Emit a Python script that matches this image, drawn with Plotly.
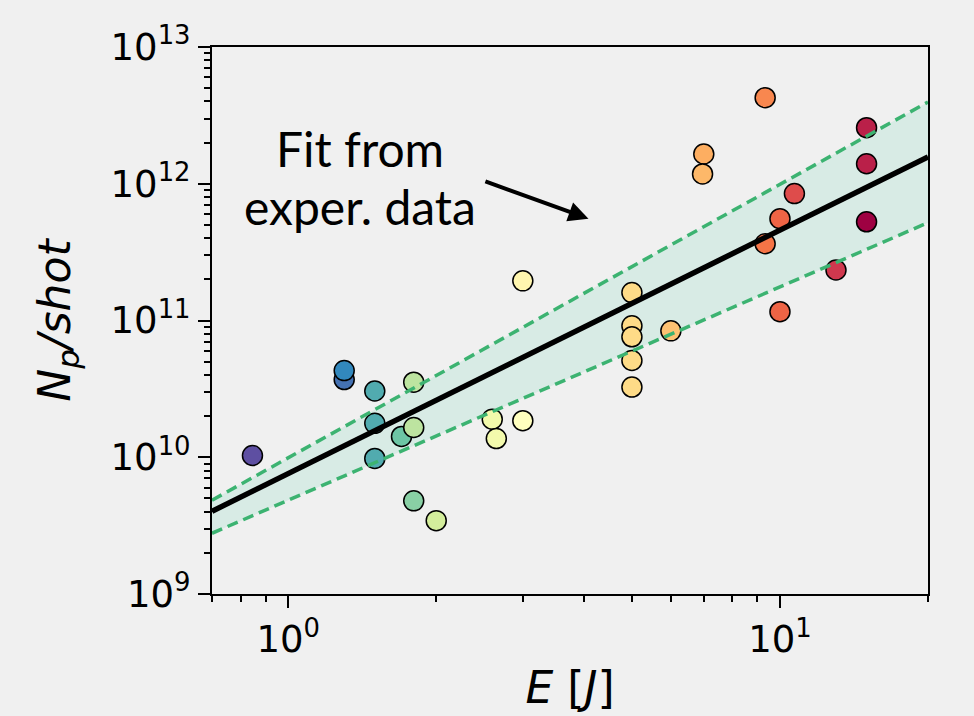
import numpy as np
import plotly.graph_objects as go

# ---------------- data ----------------
energy_J = [0.846, 1.30, 1.30, 1.50, 1.50, 1.50, 1.80, 1.70, 1.80, 1.80, 2.00,
            2.60, 2.65, 3.00, 3.00,
            5.00, 5.00, 5.00, 5.00, 5.00, 6.00,
            7.00, 6.96, 9.33, 9.33, 10.0, 10.0, 10.7, 13.0, 15.0, 15.0, 15.0]
protons_per_shot = [1.03e10, 3.7e10, 4.3e10, 3.05e10, 1.77e10, 9.8e9, 3.54e10, 1.42e10, 1.65e10, 4.8e9, 3.44e9,
                    1.9e10, 1.37e10, 1.95e11, 1.85e10,
                    1.6e11, 9.15e10, 7.6e10, 5.1e10, 3.26e10, 8.4e10,
                    1.65e12, 1.18e12, 4.26e12, 3.64e11, 5.55e11, 1.16e11, 8.47e11, 2.34e11, 2.57e12, 1.4e12, 5.27e11]
color_value = [0.0, 0.06, 0.10, 0.16, 0.16, 0.16, 0.33, 0.21, 0.33, 0.25, 0.37,
               0.45, 0.45, 0.53, 0.50,
               0.61, 0.61, 0.61, 0.61, 0.61, 0.66,
               0.70, 0.68, 0.76, 0.79, 0.82, 0.82, 0.87, 0.91, 0.95, 0.95, 1.0]

# power-law fit N = a * E^b and its uncertainty envelope
fit_a, fit_b = 7.6e9, 1.78
upper_a, upper_b = 9.9e9, 2.00
lower_a, lower_b = 4.85e9, 1.56

x_range = [0.7, 20.0]
y_range = [1e9, 1e13]

x_tickvals = [1, 10]
x_ticktext = ["10<sup>0</sup>", "10<sup>1</sup>"]
x_minor = [0.7, 0.8, 0.9, 2, 3, 4, 5, 6, 7, 8, 9, 20]
y_tickvals = [1e9, 1e10, 1e11, 1e12, 1e13]
y_ticktext = ["10<sup>9</sup>", "10<sup>10</sup>", "10<sup>11</sup>", "10<sup>12</sup>", "10<sup>13</sup>"]
y_minor = [m * 10 ** d for d in range(9, 13) for m in range(2, 10)]

arrow_tail = (2.5, 1.05e12)
arrow_tip = (4.08, 5.55e11)

# ---------------- figure ----------------
E_line = np.logspace(np.log10(x_range[0]), np.log10(x_range[1]), 60)
fit_line = fit_a * E_line ** fit_b
upper_line = upper_a * E_line ** upper_b
lower_line = lower_a * E_line ** lower_b

BG = "#f0f0f0"
fig = go.Figure()

# band
fig.add_trace(go.Scatter(x=E_line, y=lower_line, mode="lines", line=dict(width=0),
                         showlegend=False, hoverinfo="skip"))
fig.add_trace(go.Scatter(x=E_line, y=upper_line, mode="lines", line=dict(width=0),
                         fill="tonexty", fillcolor="rgba(120,215,185,0.2)",
                         showlegend=False, hoverinfo="skip"))

# experimental points
fig.add_trace(go.Scatter(
    x=energy_J, y=protons_per_shot, mode="markers", showlegend=False,
    marker=dict(size=20, color=color_value, colorscale="Spectral_r", cmin=0, cmax=1,
                line=dict(color="black", width=1.5), opacity=1)))

# dashed bounds and fit
for yy in (upper_line, lower_line):
    fig.add_trace(go.Scatter(x=E_line, y=yy, mode="lines", showlegend=False,
                             line=dict(color="#3cb371", width=3.5, dash="11px,6px"),
                             hoverinfo="skip"))
fig.add_trace(go.Scatter(x=E_line, y=fit_line, mode="lines", showlegend=False,
                         line=dict(color="black", width=5.5), hoverinfo="skip"))

# annotation text + arrow
ann_font = dict(family="Lato, Noto Sans, sans-serif", size=48, color="black")
fig.add_annotation(text="Fit from", xref="paper", yref="paper", x=0.2067, y=0.815,
                   xanchor="center", yanchor="middle", showarrow=False, font=ann_font)
fig.add_annotation(text="exper. data", xref="paper", yref="paper", x=0.2067, y=0.708,
                   xanchor="center", yanchor="middle", showarrow=False, font=ann_font)
fig.add_annotation(x=np.log10(arrow_tip[0]), y=np.log10(arrow_tip[1]),
                   ax=np.log10(arrow_tail[0]), ay=np.log10(arrow_tail[1]),
                   xref="x", yref="y", axref="x", ayref="y", text="",
                   showarrow=True, arrowhead=2, arrowsize=1, arrowwidth=4, arrowcolor="black")

tick_font = dict(family="DejaVu Sans", size=37, color="black")
fig.update_xaxes(type="log", range=[np.log10(x_range[0]), np.log10(x_range[1])],
                 tickmode="array", tickvals=x_tickvals, ticktext=x_ticktext,
                 ticks="outside", ticklen=12, tickwidth=2, tickcolor="black",
                 minor=dict(tickmode="array", tickvals=x_minor, ticks="outside",
                            ticklen=6, tickwidth=1.5, tickcolor="black", showgrid=False),
                 showline=True, linecolor="black", linewidth=2, mirror=True,
                 showgrid=False, zeroline=False, tickfont=tick_font,
                 title=dict(text="<i>E</i> [<i>J</i>]", font=dict(family="DejaVu Sans", size=44, color="black"),
                            standoff=12))
fig.update_yaxes(type="log", range=[np.log10(y_range[0]), np.log10(y_range[1])],
                 tickmode="array", tickvals=y_tickvals, ticktext=y_ticktext,
                 ticks="outside", ticklen=12, tickwidth=2, tickcolor="black",
                 minor=dict(tickmode="array", tickvals=y_minor, ticks="outside",
                            ticklen=6, tickwidth=1.5, tickcolor="black", showgrid=False),
                 showline=True, linecolor="black", linewidth=2, mirror=True,
                 showgrid=False, zeroline=False, tickfont=tick_font,
                 title=dict(text="<i>N<sub>p</sub>/shot</i>", font=dict(family="DejaVu Sans", size=44, color="black"),
                            standoff=26))

fig.update_layout(width=974, height=716, autosize=False,
                  margin=dict(l=212, r=46, t=47, b=120),
                  paper_bgcolor=BG, plot_bgcolor=BG)

fig.write_html("out.html")
